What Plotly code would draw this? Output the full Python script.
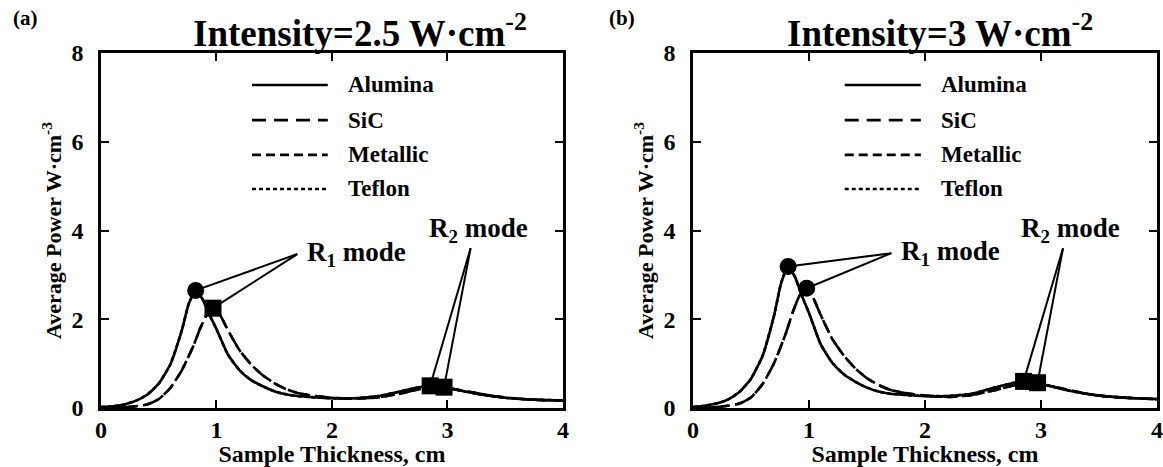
import plotly.graph_objects as go

# ---------------- data ----------------
materials = ["Alumina", "SiC", "Metallic", "Teflon"]

# Panel (a): Intensity = 2.5 W/cm^2
xa_solid = [0, 0.1, 0.2, 0.3, 0.4, 0.5, 0.6, 0.7, 0.76, 0.82, 0.88, 0.94, 1.0, 1.1, 1.2, 1.3, 1.4, 1.5,
            1.6, 1.7, 1.8, 2.0, 2.2, 2.4, 2.6, 2.75, 2.85, 2.95, 3.1, 3.3, 3.5, 3.75, 4.0]
ya_solid = [0.02, 0.04, 0.08, 0.16, 0.30, 0.55, 0.98, 1.75, 2.35, 2.65, 2.45, 2.10, 1.78, 1.20, 0.85, 0.63,
            0.49, 0.38, 0.31, 0.27, 0.25, 0.22, 0.22, 0.27, 0.38, 0.47, 0.50, 0.48, 0.40, 0.30, 0.23, 0.19, 0.17]
xa_dash = [0, 0.1, 0.2, 0.3, 0.4, 0.5, 0.6, 0.7, 0.8, 0.86, 0.92, 0.97, 1.03, 1.1, 1.2, 1.3, 1.4, 1.5,
           1.6, 1.7, 1.8, 2.0, 2.2, 2.4, 2.6, 2.75, 2.9, 3.0, 3.2, 3.4, 3.6, 3.8, 4.0]
ya_dash = [0.0, 0.01, 0.02, 0.04, 0.08, 0.20, 0.45, 0.85, 1.40, 1.80, 2.12, 2.25, 2.10, 1.75, 1.30, 0.98,
           0.74, 0.56, 0.43, 0.34, 0.29, 0.23, 0.21, 0.24, 0.33, 0.42, 0.46, 0.45, 0.36, 0.27, 0.21, 0.18, 0.17]

# Panel (b): Intensity = 3 W/cm^2
xb_solid = xa_solid
yb_solid = [0.02, 0.05, 0.10, 0.19, 0.36, 0.66, 1.18, 2.10, 2.82, 3.19, 2.95, 2.52, 2.14, 1.44, 1.02, 0.76,
            0.59, 0.46, 0.37, 0.32, 0.30, 0.27, 0.27, 0.32, 0.46, 0.56, 0.60, 0.58, 0.48, 0.36, 0.28, 0.23, 0.20]
xb_dash = [0, 0.1, 0.2, 0.3, 0.4, 0.5, 0.6, 0.7, 0.8, 0.86, 0.92, 0.98, 1.03, 1.1, 1.2, 1.3, 1.4, 1.5,
           1.6, 1.7, 1.8, 2.0, 2.2, 2.4, 2.6, 2.75, 2.9, 3.0, 3.2, 3.4, 3.6, 3.8, 4.0]
yb_dash = [0.0, 0.01, 0.02, 0.05, 0.10, 0.24, 0.54, 1.02, 1.68, 2.16, 2.54, 2.70, 2.52, 2.10, 1.56, 1.18,
           0.89, 0.67, 0.52, 0.41, 0.35, 0.28, 0.25, 0.29, 0.40, 0.50, 0.55, 0.54, 0.43, 0.32, 0.25, 0.22, 0.20]

# Resonance-mode markers
a_r1_x = [0.82, 0.97]; a_r1_y = [2.65, 2.25]
a_r2_x = [2.85, 2.97]; a_r2_y = [0.50, 0.47]
b_r1_x = [0.82, 0.98]; b_r1_y = [3.19, 2.70]
b_r2_x = [2.85, 2.97]; b_r2_y = [0.60, 0.57]
# leader-line convergence points
a_r1_tip = (1.70, 3.47); a_r2_tip = (3.20, 3.60)
b_r1_tip = (1.71, 3.49); b_r2_tip = (3.19, 3.60)

titles = ["Intensity=2.5 W·cm<sup>-2</sup>", "Intensity=3 W·cm<sup>-2</sup>"]
panel_tags = ["(a)", "(b)"]

# ---------------- styling ----------------
FONT = "Liberation Serif, Times New Roman, serif"
dash_styles = {"Alumina": "solid", "SiC": "14px,8px", "Metallic": "9px,5px", "Teflon": "4px,3px"}
LW = 2.6

fig = go.Figure()

panels = [
    dict(xs=xa_solid, ys=ya_solid, xd=xa_dash, yd=ya_dash, r1=(a_r1_x, a_r1_y), r2=(a_r2_x, a_r2_y),
         t1=a_r1_tip, t2=a_r2_tip, xa="x", ya="y", r1sym=["circle", "square"]),
    dict(xs=xb_solid, ys=yb_solid, xd=xb_dash, yd=yb_dash, r1=(b_r1_x, b_r1_y), r2=(b_r2_x, b_r2_y),
         t1=b_r1_tip, t2=b_r2_tip, xa="x2", ya="y2", r1sym=["circle", "circle"]),
]

for p in panels:
    curves = {"Teflon": (p["xs"], p["ys"]), "Alumina": (p["xs"], p["ys"]),
              "SiC": (p["xd"], p["yd"]), "Metallic": (p["xd"], p["yd"])}
    for name in ["Teflon", "Alumina", "SiC", "Metallic"]:
        cx, cy = curves[name]
        fig.add_trace(go.Scatter(x=cx, y=cy, mode="lines", name=name, showlegend=False,
                                 line=dict(color="black", width=LW, dash=dash_styles[name],
                                           shape="spline", smoothing=0.5),
                                 xaxis=p["xa"], yaxis=p["ya"]))
    # leader lines
    for (mx, my), tip in ((p["r1"], p["t1"]), (p["r2"], p["t2"])):
        for xi, yi in zip(mx, my):
            fig.add_trace(go.Scatter(x=[xi, tip[0]], y=[yi, tip[1]], mode="lines", showlegend=False,
                                     line=dict(color="black", width=2), hoverinfo="skip",
                                     xaxis=p["xa"], yaxis=p["ya"]))
    # markers
    fig.add_trace(go.Scatter(x=p["r1"][0], y=p["r1"][1], mode="markers", showlegend=False,
                             marker=dict(color="black", size=17, symbol=p["r1sym"]),
                             xaxis=p["xa"], yaxis=p["ya"]))
    fig.add_trace(go.Scatter(x=p["r2"][0], y=p["r2"][1], mode="markers", showlegend=False,
                             marker=dict(color="black", size=17, symbol="square"),
                             xaxis=p["xa"], yaxis=p["ya"]))

axis_common = dict(showline=True, linecolor="black", linewidth=2.5, mirror="ticks", ticks="inside",
                   ticklen=8, tickwidth=2, tickcolor="black", showgrid=False, zeroline=False,
                   ticklabeloverflow="allow",
                   tickfont=dict(family=FONT, size=24, color="black", weight="bold"))
xdom = [[0.0868, 0.4841], [0.5959, 0.9948]]
ydom = [0.1263, 0.8865]

layout = dict(
    width=1163, height=467, margin=dict(l=0, r=0, t=0, b=0),
    paper_bgcolor="white", plot_bgcolor="white", showlegend=False,
    font=dict(family=FONT, color="black"),
)
for i, suf in enumerate(["", "2"]):
    layout["xaxis" + suf] = dict(axis_common, domain=xdom[i], range=[0, 4], dtick=1,
                                 anchor="y" + suf, automargin=False, ticklabelstandoff=-2,
                                 title=dict(text="Sample Thickness, cm", standoff=2,
                                            font=dict(family=FONT, size=24, weight="bold")))
    layout["yaxis" + suf] = dict(axis_common, domain=ydom, range=[0, 8], dtick=2,
                                 anchor="x" + suf, automargin=False, ticklabelstandoff=10,
                                 title=dict(text="Average Power W·cm<sup>-3</sup>", standoff=4,
                                            font=dict(family=FONT, size=22, weight="bold")))
fig.update_layout(**layout)

annotations = []
title_x = [360 / 1163, 940 / 1163]
tag_x = [25 / 1163, 622 / 1163]
for i in range(2):
    annotations.append(dict(text=titles[i], x=title_x[i], y=1 - 30 / 467, xref="paper", yref="paper",
                            showarrow=False, xanchor="center", yanchor="middle",
                            font=dict(family=FONT, size=37, weight="bold", color="black")))
    annotations.append(dict(text=panel_tags[i], x=tag_x[i], y=1 - 18 / 467, xref="paper", yref="paper",
                            showarrow=False, xanchor="center", yanchor="middle",
                            font=dict(family=FONT, size=21, weight="bold", color="black")))
# mode labels
mode_lbl = [("x", "y", a_r1_tip, a_r2_tip), ("x2", "y2", b_r1_tip, b_r2_tip)]
for xr, yr, t1, t2 in mode_lbl:
    annotations.append(dict(text="R<sub>1</sub> mode", x=t1[0] + 0.07, y=t1[1], xref=xr, yref=yr,
                            showarrow=False, xanchor="left", yanchor="middle",
                            font=dict(family=FONT, size=27, weight="bold", color="black")))
    annotations.append(dict(text="R<sub>2</sub> mode", x=t2[0] - 0.38, y=t2[1] + 0.42, xref=xr, yref=yr,
                            showarrow=False, xanchor="left", yanchor="middle",
                            font=dict(family=FONT, size=27, weight="bold", color="black")))

# manual legend (line samples + labels), positioned in axis-domain coordinates
shapes = []
leg_rows = [0.91, 0.811, 0.713, 0.617]
for xr in ["x", "x2"]:
    for name, yy in zip(materials, leg_rows):
        shapes.append(dict(type="line", xref=xr + " domain", yref=("y" if xr == "x" else "y2") + " domain",
                           x0=0.327, x1=0.491, y0=yy, y1=yy,
                           line=dict(color="black", width=LW, dash=dash_styles[name])))
        annotations.append(dict(text=name, x=0.53, y=yy, xref=xr + " domain",
                                yref=("y" if xr == "x" else "y2") + " domain",
                                showarrow=False, xanchor="left", yanchor="middle",
                                font=dict(family=FONT, size=23, weight="bold", color="black")))

fig.update_layout(annotations=annotations, shapes=shapes)
fig.write_html("out.html")
